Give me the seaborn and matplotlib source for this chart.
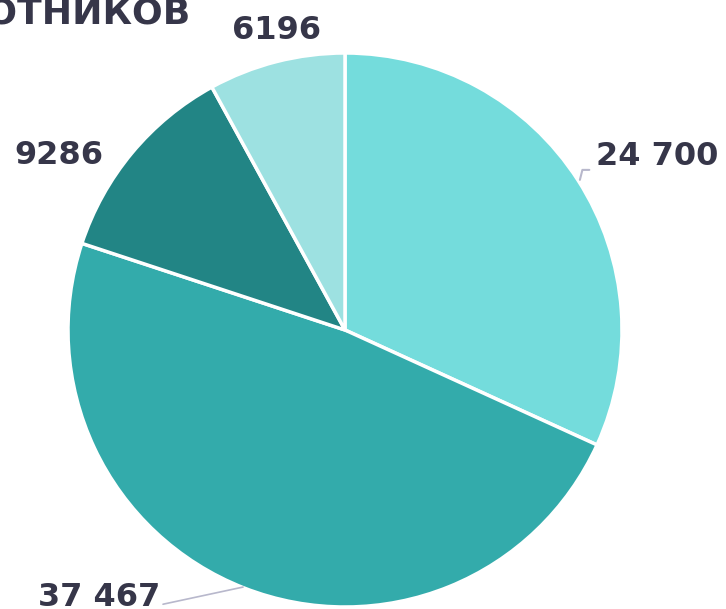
import numpy as np
import matplotlib
matplotlib.use("Agg")
import matplotlib.pyplot as plt
import seaborn as sns

# data (clockwise from 12 o'clock)
values = [24700, 37467, 9286, 6196]
labels = ["24 700", "37 467", "9286", "6196"]
colors = ["#74DCDC", "#33ABAB", "#228585", "#9DE1E1"]
title = "ЧИСЛЕННОСТЬ РАБОТНИКОВ"

# label placement: (distance in radii, angle in degrees)
label_pos = [(1.29, 29), (1.31, 227.4), (1.21, 148.7), (1.11, 102.8)]

sns.set_theme(style="white")
plt.rcParams["font.family"] = ["DejaVu Sans"]
text_color = "#363649"

fig = plt.figure(figsize=(7.26, 6.09), dpi=100)
ax = fig.add_axes([68 / 726, 2 / 609, 554 / 726, 554 / 609])

ax.pie(values, colors=colors, startangle=90, counterclock=False, radius=1,
       wedgeprops=dict(edgecolor="white", linewidth=2.5))
ax.set_xlim(-1, 1)
ax.set_ylim(-1, 1)
ax.set_aspect("equal")
ax.axis("off")

for lab, (d, a) in zip(labels, label_pos):
    t = np.deg2rad(a)
    ax.text(d * np.cos(t), d * np.sin(t), lab, ha="center", va="center",
            fontsize=23, fontweight="bold", color=text_color, clip_on=False)

# leader lines
line_color = "#B8B8CC"
ax.plot([0.848, 0.857, 0.882], [0.542, 0.578, 0.578], color=line_color, lw=1.5, clip_on=False)
ax.plot([-0.368, -0.657], [-0.928, -0.99], color=line_color, lw=1.2, clip_on=False)

fig.text(190 / 726, 1 - 24 / 609, title, ha="right", va="baseline",
         fontsize=26, fontweight="bold", color=text_color)

fig.savefig("out.png", dpi=100)
